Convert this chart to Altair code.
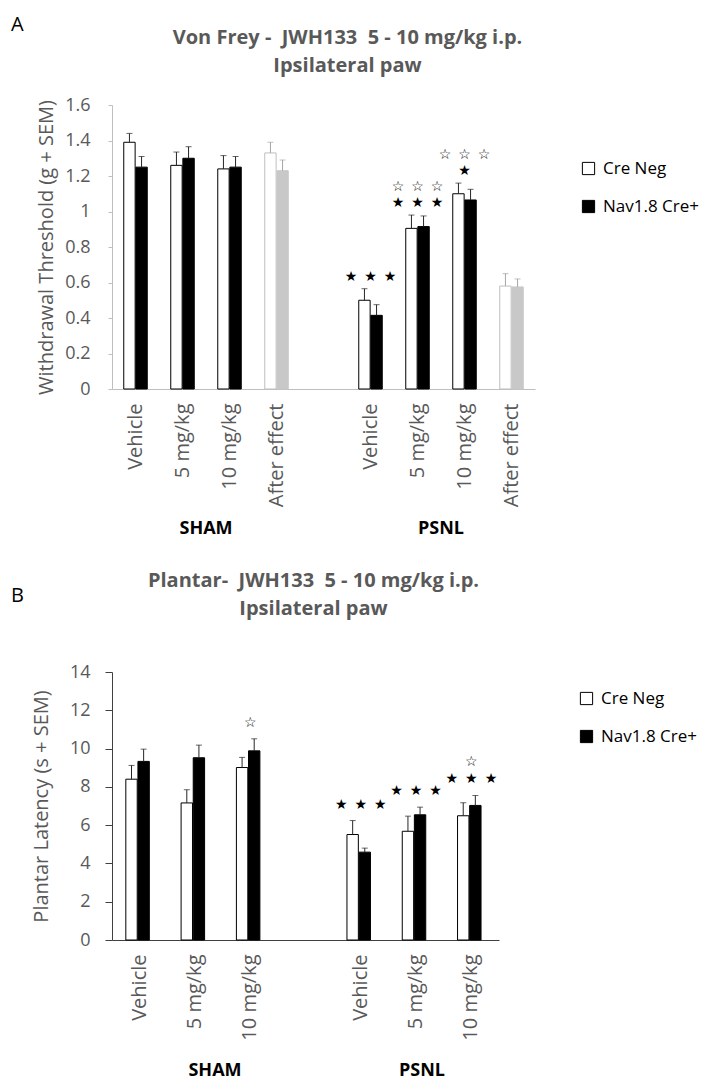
import altair as alt
import pandas as pd

FONT = "Open Sans"
GRAY = "#595959"
SERIES = ["Cre Neg", "Nav1.8 Cre+"]

# ---------------- Panel A : Von Frey ----------------
vf_groups = ["SHAM", "SHAM", "SHAM", "SHAM", "PSNL", "PSNL", "PSNL", "PSNL"]
vf_conditions = ["Vehicle", "5 mg/kg", "10 mg/kg", "After effect",
                 "Vehicle", "5 mg/kg", "10 mg/kg", "After effect"]
vf_after_effect = [False, False, False, True, False, False, False, True]
vf_cre_neg = [1.39, 1.26, 1.24, 1.33, 0.50, 0.905, 1.10, 0.58]
vf_cre_neg_sem = [0.05, 0.075, 0.075, 0.06, 0.065, 0.075, 0.06, 0.07]
vf_nav = [1.25, 1.30, 1.25, 1.23, 0.415, 0.915, 1.065, 0.575]
vf_nav_sem = [0.06, 0.065, 0.06, 0.06, 0.06, 0.06, 0.06, 0.045]
# significance marks: lower line / upper line
vf_stars_low = ["", "", "", "", "★\u2002★\u2002★", "★\u2002★\u2002★", "★", ""]
vf_stars_up = ["", "", "", "", "", "☆\u2002☆\u2002☆", "☆\u2002☆\u2002☆", ""]
vf_ticks = [0, 0.2, 0.4, 0.6, 0.8, 1.0, 1.2, 1.4, 1.6]
vf_title = ["Von Frey -\u00a0 JWH133\u00a0 5 - 10 mg/kg i.p.", "Ipsilateral paw"]
vf_ytitle = "Withdrawal Threshold (g + SEM)"

# ---------------- Panel B : Plantar ----------------
pl_groups = ["SHAM", "SHAM", "SHAM", "PSNL", "PSNL", "PSNL"]
pl_conditions = ["Vehicle", "5 mg/kg", "10 mg/kg", "Vehicle", "5 mg/kg", "10 mg/kg"]
pl_after_effect = [False, False, False, False, False, False]
pl_cre_neg = [8.40, 7.16, 9.01, 5.51, 5.68, 6.49]
pl_cre_neg_sem = [0.72, 0.69, 0.53, 0.73, 0.79, 0.68]
pl_nav = [9.33, 9.52, 9.88, 4.59, 6.54, 7.03]
pl_nav_sem = [0.64, 0.66, 0.63, 0.21, 0.40, 0.52]
pl_stars_low = ["", "", "☆", "★\u2002★\u2002★", "★\u2002★\u2002★", "★\u2002★\u2002★"]
pl_stars_up = ["", "", "", "", "", "☆"]
pl_ticks = [0, 2, 4, 6, 8, 10, 12, 14]
pl_title = ["Plantar-\u00a0 JWH133\u00a0 5 - 10 mg/kg i.p.", "Ipsilateral paw"]
pl_ytitle = "Plantar Latency (s + SEM)"


def panel(letter, groups, conds, ae, neg, neg_sem, nav, nav_sem, stars_low, stars_up,
          ticks, title, ytitle, width, height, axis_color, tick_size, label_pad,
          title_pad, title_dx, title_y, letter_y, star_dy, star_gap, grp_pad,
          grp_align, grp_dy, legend_x, legend_y):
    keys = [f"{g}|{c}" for g, c in zip(groups, conds)]
    half = len(keys) // 2
    domain = keys[:half] + ["gap|"] + keys[half:]

    rows = []
    for i, k in enumerate(keys):
        for s, v, e in ((SERIES[0], neg[i], neg_sem[i]), (SERIES[1], nav[i], nav_sem[i])):
            rows.append({"key": k, "series": s, "value": v, "top": v + e,
                         "style": s + (" AE" if ae[i] else "")})
    df = pd.DataFrame(rows)

    star_rows = []
    for i, k in enumerate(keys):
        star_rows.append({"key": k, "low": stars_low[i], "up": stars_up[i],
                          "y": max(neg[i] + neg_sem[i], nav[i] + nav_sem[i])})
    df_stars = pd.DataFrame(star_rows)

    styles = [SERIES[0], SERIES[1], SERIES[0] + " AE", SERIES[1] + " AE"]
    fill_scale = alt.Scale(domain=styles, range=["#ffffff", "#000000", "#ffffff", "#c8c8c8"])
    stroke_scale = alt.Scale(domain=styles, range=["#000000", "#000000", "#bfbfbf", "#c8c8c8"])
    err_scale = alt.Scale(domain=styles, range=["#262626", "#262626", "#a6a6a6", "#a6a6a6"])
    legend = alt.Legend(orient="none", legendX=legend_x, legendY=legend_y, title=None,
                        values=SERIES, symbolType="square", symbolSize=150,
                        symbolStrokeWidth=1, labelFont=FONT, labelFontSize=17,
                        labelColor="#000000", rowPadding=20, labelOffset=6, padding=0)

    xscale = alt.Scale(domain=domain, paddingInner=0.5, paddingOuter=0.25)
    xaxis = alt.Axis(title=None, ticks=False, labelAngle=-90, labelPadding=14,
                     labelExpr="split(datum.value, '|')[1]", labelFont=FONT,
                     labelFontSize=20, labelColor=GRAY, domainColor=axis_color,
                     labelOverlap=False)
    xoff = alt.XOffset("series:N", scale=alt.Scale(domain=SERIES, paddingInner=0.06,
                                                   paddingOuter=0))
    yscale = alt.Scale(domain=[ticks[0], ticks[-1]], nice=False)
    yaxis = alt.Axis(values=ticks, format=".1~f", grid=False, tickSize=tick_size,
                     tickColor=axis_color, domainColor=axis_color,
                     labelPadding=label_pad, labelFont=FONT, labelFontSize=18,
                     labelColor=GRAY, titleFont=FONT, titleFontSize=20,
                     titleFontWeight="normal", titleColor=GRAY, titlePadding=title_pad)

    def X():
        return alt.X("key:N", scale=xscale, axis=xaxis)

    def Y(field):
        return alt.Y(field, scale=yscale, axis=yaxis, title=ytitle)

    base = alt.Chart(df)
    bars = base.mark_bar(strokeWidth=1).encode(
        x=X(), xOffset=xoff, y=Y("value:Q"),
        fill=alt.Fill("style:N", scale=fill_scale, legend=legend),
        stroke=alt.Stroke("style:N", scale=stroke_scale, legend=legend),
    )
    err = base.mark_rule(strokeWidth=1).encode(
        x=X(), xOffset=xoff, y=Y("value:Q"), y2="top:Q",
        color=alt.Color("style:N", scale=err_scale, legend=None),
    )
    caps = base.mark_tick(size=6, thickness=1).encode(
        x=X(), xOffset=xoff, y=Y("top:Q"),
        color=alt.Color("style:N", scale=err_scale, legend=None),
    )
    star_base = alt.Chart(df_stars)
    star_low = star_base.mark_text(
        font="DejaVu Sans", fontSize=14, baseline="bottom", dy=star_dy, color="#000000",
    ).encode(x=X(), y=Y("y:Q"), text="low:N")
    star_up = star_base.mark_text(
        font="DejaVu Sans", fontSize=14, baseline="bottom", dy=star_dy - star_gap,
        color="#000000",
    ).encode(x=X(), y=Y("y:Q"), text="up:N")

    inner = alt.layer(bars, err, caps, star_low, star_up)

    grp_names = [groups[0], groups[-1]]
    grp_layer = alt.Chart(pd.DataFrame({"group": grp_names})).mark_text(
        font=FONT, fontSize=18, fontWeight="bold", color="#000000", baseline="middle",
    ).encode(
        x=alt.X("group:N", scale=alt.Scale(type="point", domain=grp_names,
                                           padding=grp_pad, align=grp_align), axis=None),
        y=alt.value(height + grp_dy),
        text="group:N",
    )
    letter_layer = alt.Chart(pd.DataFrame({"t": [letter]})).mark_text(
        font=FONT, fontSize=20, color="#000000", align="left", baseline="top",
    ).encode(x=alt.value(-101), y=alt.value(letter_y), text="t:N")

    title1 = alt.Chart(pd.DataFrame({"t": [title[0]]})).mark_text(
        font=FONT, fontSize=20, fontWeight="bold", color=GRAY, baseline="middle",
    ).encode(x=alt.value(width / 2 + title_dx), y=alt.value(title_y), text="t:N")
    title2 = alt.Chart(pd.DataFrame({"t": [title[1]]})).mark_text(
        font=FONT, fontSize=20, fontWeight="bold", color=GRAY, baseline="middle",
    ).encode(x=alt.value(width / 2 + title_dx), y=alt.value(title_y + 28), text="t:N")

    return alt.layer(inner, grp_layer, letter_layer, title1, title2).resolve_scale(
        x="independent"
    ).properties(width=width, height=height)


chart_a = panel("A", vf_groups, vf_conditions, vf_after_effect, vf_cre_neg, vf_cre_neg_sem,
                vf_nav, vf_nav_sem, vf_stars_low, vf_stars_up, vf_ticks, vf_title,
                vf_ytitle, width=423, height=284, axis_color="#bfbfbf", tick_size=4,
                label_pad=18, title_pad=8, title_dx=24, title_y=-67, letter_y=-90,
                star_dy=-5, star_gap=16, grp_pad=0.4, grp_align=0.5, grp_dy=140,
                legend_x=468, legend_y=55)

chart_b = panel("B", pl_groups, pl_conditions, pl_after_effect, pl_cre_neg, pl_cre_neg_sem,
                pl_nav, pl_nav_sem, pl_stars_low, pl_stars_up, pl_ticks, pl_title,
                pl_ytitle, width=387, height=268, axis_color="#404040", tick_size=7,
                label_pad=15, title_pad=18, title_dx=8, title_y=-91, letter_y=-86,
                star_dy=-9, star_gap=17, grp_pad=0.435, grp_align=0.572, grp_dy=131,
                legend_x=466, legend_y=18)

chart = alt.vconcat(chart_a, chart_b, spacing=33).resolve_scale(
    fill="independent", stroke="independent", color="independent"
).resolve_legend(
    fill="independent", stroke="independent", color="independent"
).properties(
    padding={"left": 3, "top": 7, "right": 0, "bottom": 0}, background="white"
).configure_view(stroke=None)

chart.save("out.html", embed_options={"renderer": "svg", "actions": False})
